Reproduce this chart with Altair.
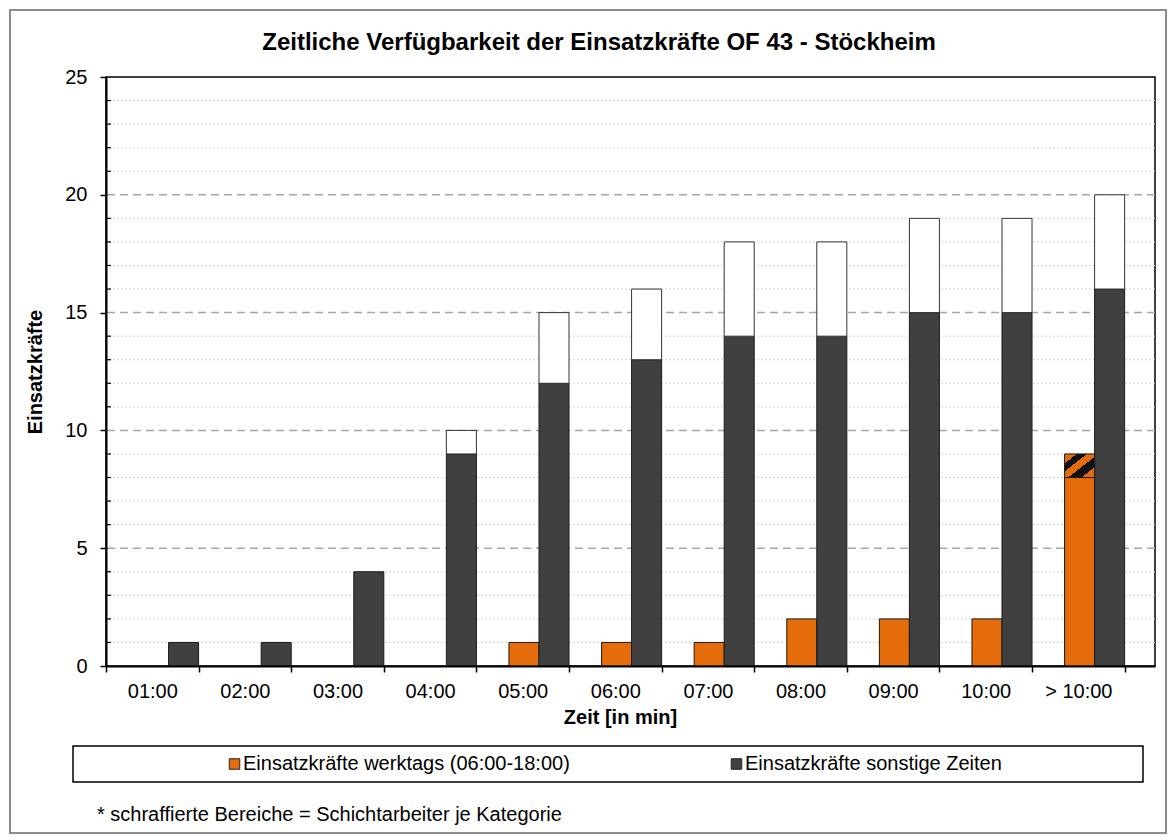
import altair as alt
import pandas as pd

# ---------------- data ----------------
categories = ["01:00", "02:00", "03:00", "04:00", "05:00", "06:00",
              "07:00", "08:00", "09:00", "10:00", "> 10:00"]
werktags = [0, 0, 0, 0, 1, 1, 1, 2, 2, 2, 8]
werktags_schicht = [0, 0, 0, 0, 0, 0, 0, 0, 0, 0, 1]
sonstige = [1, 1, 4, 9, 12, 13, 14, 14, 15, 15, 16]
sonstige_schicht = [0, 0, 0, 1, 3, 3, 4, 4, 4, 4, 4]

series_keys = ["werktags", "sonstige"]
series_labels = ["Einsatzkräfte werktags (06:00-18:00)", "Einsatzkräfte sonstige Zeiten"]
series_colors = ["#E46C0A", "#404040"]

y_ticks = [0, 5, 10, 15, 20, 25]
y_major = [5, 10, 15, 20]
y_minor = [1, 2, 3, 4, 6, 7, 8, 9, 11, 12, 13, 14, 16, 17, 18, 19, 21, 22, 23, 24]

title_text = "Zeitliche Verfügbarkeit der Einsatzkräfte OF 43 - Stöckheim"
x_title = "Zeit [in min]"
y_title = "Einsatzkräfte"
footnote = "* schraffierte Bereiche = Schichtarbeiter je Kategorie"

# ---------------- table ----------------
rows = []
for i, c in enumerate(categories):
    rows.append({"cat": c, "series": "werktags", "v": werktags[i],
                 "top": werktags[i] + werktags_schicht[i], "extra": werktags_schicht[i]})
    rows.append({"cat": c, "series": "sonstige", "v": sonstige[i],
                 "top": sonstige[i] + sonstige_schicht[i], "extra": sonstige_schicht[i]})
df = pd.DataFrame(rows)

FONT = "Liberation Sans"
W, H = 1049, 589

ysc = alt.Scale(domain=[0, 25], nice=False, zero=True)
xsc = alt.Scale(domain=categories, paddingInner=0, paddingOuter=0.164, align=0)
xosc = alt.Scale(domain=series_keys, paddingInner=0, paddingOuter=0.542, align=1)
csc = alt.Scale(domain=series_keys, range=series_colors)

x_axis = alt.Axis(title=x_title, labelAngle=0, tickBand="extent", domainColor="#000",
                  domainWidth=2, tickColor="#000", tickSize=6, tickWidth=1.5,
                  labelFont=FONT, labelFontSize=20, labelColor="#000", labelPadding=9,
                  titleFont=FONT, titleFontSize=20, titleFontWeight="bold", titleColor="#000",
                  titleX=514, titleY=51, titleBaseline="middle", titleAlign="center",
                  grid=False, zindex=1)
y_axis = alt.Axis(title=y_title, values=y_ticks, domainColor="#000", domainWidth=2,
                  tickColor="#000", tickSize=6, tickWidth=1.5,
                  labelFont=FONT, labelFontSize=20, labelColor="#000", labelPadding=13,
                  titleFont=FONT, titleFontSize=20, titleFontWeight="bold", titleColor="#000",
                  titleX=-71, titleY=H / 2, titleAngle=270, titleAlign="center",
                  titleBaseline="middle", grid=False, zindex=1)

X = alt.X("cat:N", sort=categories, scale=xsc, axis=x_axis)
XO = alt.XOffset("series:N", scale=xosc)
Y = alt.Y("v:Q", scale=ysc, axis=y_axis)

# grid lines
minor_grid = alt.Chart(pd.DataFrame({"v": y_minor})).mark_rule(
    color="#d4d4d4", strokeDash=[2, 2], strokeWidth=1
).encode(y=Y)

major_grid = alt.Chart(pd.DataFrame({"v": y_major})).mark_rule(
    color="#a6a6a6", strokeDash=[8, 5], strokeWidth=1.5
).encode(y=Y)

minor_ticks = alt.Chart(pd.DataFrame({"v": y_minor})).mark_rule(
    color="#000", strokeWidth=1.2
).encode(y=Y, x=alt.value(0), x2=alt.value(5))

# bars
base_bars = alt.Chart(df).transform_filter("datum.v > 0").mark_bar(
    stroke="#1a1a1a", strokeWidth=1, opacity=1
).encode(
    x=X, xOffset=XO, y=Y,
    color=alt.Color("series:N", scale=csc, legend=None),
)

white_tops = alt.Chart(df).transform_filter(
    "datum.extra > 0 && datum.series == 'sonstige'"
).mark_bar(fill="#ffffff", stroke="#333333", strokeWidth=1).encode(
    x=X, xOffset=XO, y=Y, y2="top:Q",
)

orange = series_colors[0]
dark = "#111111"
hatch = alt.Gradient(
    gradient="linear", x1=0, y1=0, x2=1, y2=1,
    stops=[
        alt.GradientStop(offset=0.0, color=orange),
        alt.GradientStop(offset=0.2, color=orange),
        alt.GradientStop(offset=0.2, color=dark),
        alt.GradientStop(offset=0.37, color=dark),
        alt.GradientStop(offset=0.37, color=orange),
        alt.GradientStop(offset=0.56, color=orange),
        alt.GradientStop(offset=0.56, color=dark),
        alt.GradientStop(offset=0.78, color=dark),
        alt.GradientStop(offset=0.78, color=orange),
        alt.GradientStop(offset=1.0, color=orange),
    ],
)
hatch_tops = alt.Chart(df).transform_filter(
    "datum.extra > 0 && datum.series == 'werktags'"
).mark_bar(fill=hatch, stroke="#1a1a1a", strokeWidth=1).encode(
    x=X, xOffset=XO, y=Y, y2="top:Q",
)

# title
title = alt.Chart(pd.DataFrame({"t": [title_text]})).mark_text(
    font=FONT, fontSize=24, fontWeight="bold", color="#000", align="center",
    baseline="alphabetic"
).encode(x=alt.value(493), y=alt.value(-27), text="t:N")

# outer frame
frame = alt.Chart(pd.DataFrame({"a": [0]})).mark_rect(
    fill="#ffffff", fillOpacity=0, stroke="#8c8c8c", strokeWidth=2
).encode(x=alt.value(-96), x2=alt.value(1060), y=alt.value(-67), y2=alt.value(756))

# legend box
legend_box = alt.Chart(pd.DataFrame({"a": [0]})).mark_rect(
    fill="#ffffff", stroke="#000", strokeWidth=1.5
).encode(x=alt.value(-33), x2=alt.value(1037), y=alt.value(669), y2=alt.value(705))

legend_layers = []
sym_x = [128.5, 630.5]
txt_x = [137, 639]
for i in range(2):
    ldf = pd.DataFrame({"series": [series_keys[i]], "label": [series_labels[i]]})
    legend_layers.append(
        alt.Chart(ldf).mark_square(size=110, filled=True, opacity=1, stroke="#222",
                                   strokeWidth=1).encode(
            x=alt.value(sym_x[i]), y=alt.value(687),
            color=alt.Color("series:N", scale=csc, legend=None))
    )
    legend_layers.append(
        alt.Chart(ldf).mark_text(font=FONT, fontSize=20, color="#000", align="left",
                                 baseline="middle").encode(
            x=alt.value(txt_x[i]), y=alt.value(687), text="label:N")
    )

foot = alt.Chart(pd.DataFrame({"t": [footnote]})).mark_text(
    font=FONT, fontSize=20, color="#000", align="left", baseline="middle"
).encode(x=alt.value(-9), y=alt.value(738), text="t:N")

chart = alt.layer(
    minor_grid, major_grid, minor_ticks, base_bars, white_tops, hatch_tops,
    title, frame, legend_box, *legend_layers, foot
).properties(
    width=W, height=H,
    autosize=alt.AutoSizeParams(type="none"),
    padding={"left": 98, "top": 69, "right": 13, "bottom": 169},
    background="#ffffff",
).configure_view(stroke="#000", strokeWidth=1.5)

chart.save("out.html", embed_options={"renderer": "svg", "actions": False})
